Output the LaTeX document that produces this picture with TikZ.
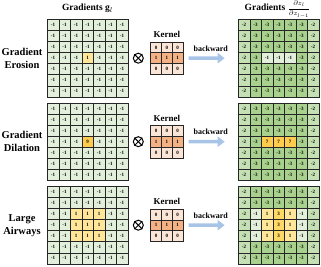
\documentclass[tikz,border=0pt]{standalone}
\usepackage{amsmath}
\usepackage{fontspec}
\setmainfont{Liberation Serif}
\usepackage{xcolor}
\usetikzlibrary{arrows.meta,positioning}

\definecolor{ltgreen}{HTML}{E2EFDA}
\definecolor{mdgreen}{HTML}{C5E0B4}
\definecolor{dkgreen}{HTML}{A9D18E}
\definecolor{ltyellow}{HTML}{FFE699}
\definecolor{mdyellow}{HTML}{FFD966}
\definecolor{gold}{HTML}{FFCC4D}
\definecolor{ltorange}{HTML}{FBE5D6}
\definecolor{korange}{HTML}{F4B183}
\definecolor{bwblue}{HTML}{A8C5E8}

\begin{document}
\begin{tikzpicture}[x=1pt, y=-1pt,
  cell/.style={draw=black!85, line width=0.6pt, minimum width=11.5pt, minimum height=11.05pt, inner sep=0pt, font=\fontsize{5}{6}\selectfont\bfseries},
  kcell/.style={cell, minimum width=10.8pt, minimum height=10.8pt},
  c-3/.style={fill=dkgreen}, c-2/.style={fill=mdgreen}, c-1/.style={fill=ltgreen},
  c1/.style={fill=ltyellow}, c3/.style={fill=mdyellow}, c7/.style={fill=gold}, c9/.style={fill=gold},
  k0/.style={fill=ltorange}, k1/.style={fill=korange},
  coltitle/.style={font=\fontsize{9.5}{11}\selectfont\bfseries},
  rowlabel/.style={align=center, font=\fontsize{10.5}{13}\selectfont\bfseries},
  bwd/.style={draw=bwblue, line width=3.5pt, -{Triangle[length=7pt, width=10pt]}, shorten <=5.3pt, shorten >=13.3pt}]
\useasboundingbox (0,0) rectangle (321,267);

% Column titles
\node[coltitle] (in-title) at (87.5,8) {Gradients g$_l$};
\node[coltitle, inner sep=0pt] (out-title) at (277.5,9.3) {Gradients {\fontsize{7.5}{8}\selectfont$\dfrac{\partial z_l}{\partial z_{l-1}}$}};

% Kernel, product sign and backward arrow of each row
\foreach \p/\dy/\lbl in {ero/0/{Gradient\\Erosion}, dil/83.5/{Gradient\\Dilation}, air/167/{Large\\Airways}} {
  \begin{scope}[yshift=-\dy pt]
    \node[rowlabel] (\p-lbl) at (22,58.2) {\lbl};
    \node[circle, draw, line width=1pt, minimum size=10pt, inner sep=0pt] (\p-x) at (138.3,58.2) {};
    \draw[line width=1pt] (\p-x.north west) -- (\p-x.south east);
    \draw[line width=1pt] (\p-x.north east) -- (\p-x.south west);
    \foreach \r [count=\i from 0] in {{0,0,0},{1,1,1},{0,0,0}}
      \foreach \v [count=\j from 0] in \r
        \node[kcell, k\v] (\p-k-\i-\j) at ({156.1+10.8*\j}, {47.4+10.8*\i}) {\v};
    \node[font=\fontsize{9}{10}\selectfont\bfseries, above=0.5pt of \p-k-0-1] (\p-ktitle) {Kernel};
  \end{scope}
}

% Input gradients
\foreach \r [count=\i from 0] in {{-1,-1,-1,-1,-1,-1,-1},{-1,-1,-1,-1,-1,-1,-1},{-1,-1,-1,-1,-1,-1,-1},{-1,-1,-1,1,-1,-1,-1},{-1,-1,-1,-1,-1,-1,-1},{-1,-1,-1,-1,-1,-1,-1},{-1,-1,-1,-1,-1,-1,-1}}
  \foreach \v [count=\j from 0] in \r
    \node[cell, c\v] (ero-in-\i-\j) at ({53.05+11.5*\j}, {25.03+11.05*\i}) {\v};
\foreach \r [count=\i from 0] in {{-1,-1,-1,-1,-1,-1,-1},{-1,-1,-1,-1,-1,-1,-1},{-1,-1,-1,-1,-1,-1,-1},{-1,-1,-1,9,-1,-1,-1},{-1,-1,-1,-1,-1,-1,-1},{-1,-1,-1,-1,-1,-1,-1},{-1,-1,-1,-1,-1,-1,-1}}
  \foreach \v [count=\j from 0] in \r
    \node[cell, c\v] (dil-in-\i-\j) at ({53.05+11.5*\j}, {108.53+11.05*\i}) {\v};
\foreach \r [count=\i from 0] in {{-1,-1,-1,-1,-1,-1,-1},{-1,-1,-1,-1,-1,-1,-1},{-1,-1,1,1,1,-1,-1},{-1,-1,1,1,1,-1,-1},{-1,-1,1,1,1,-1,-1},{-1,-1,-1,-1,-1,-1,-1},{-1,-1,-1,-1,-1,-1,-1}}
  \foreach \v [count=\j from 0] in \r
    \node[cell, c\v] (air-in-\i-\j) at ({53.05+11.5*\j}, {192.03+11.05*\i}) {\v};

% Output gradients
\foreach \r [count=\i from 0] in {{-2,-3,-3,-3,-3,-3,-2},{-2,-3,-3,-3,-3,-3,-2},{-2,-3,-3,-3,-3,-3,-2},{-2,-3,-1,-1,-1,-3,-2},{-2,-3,-3,-3,-3,-3,-2},{-2,-3,-3,-3,-3,-3,-2},{-2,-3,-3,-3,-3,-3,-2}}
  \foreach \v [count=\j from 0] in \r
    \node[cell, c\v] (ero-out-\i-\j) at ({244.05+11.5*\j}, {25.03+11.05*\i}) {\v};
\foreach \r [count=\i from 0] in {{-2,-3,-3,-3,-3,-3,-2},{-2,-3,-3,-3,-3,-3,-2},{-2,-3,-3,-3,-3,-3,-2},{-2,-3,7,7,7,-3,-2},{-2,-3,-3,-3,-3,-3,-2},{-2,-3,-3,-3,-3,-3,-2},{-2,-3,-3,-3,-3,-3,-2}}
  \foreach \v [count=\j from 0] in \r
    \node[cell, c\v] (dil-out-\i-\j) at ({244.05+11.5*\j}, {108.53+11.05*\i}) {\v};
\foreach \r [count=\i from 0] in {{-2,-3,-3,-3,-3,-3,-2},{-2,-3,-3,-3,-3,-3,-2},{-2,-1,1,3,1,-1,-2},{-2,-1,1,3,1,-1,-2},{-2,-1,1,3,1,-1,-2},{-2,-3,-3,-3,-3,-3,-2},{-2,-3,-3,-3,-3,-3,-2}}
  \foreach \v [count=\j from 0] in \r
    \node[cell, c\v] (air-out-\i-\j) at ({244.05+11.5*\j}, {192.03+11.05*\i}) {\v};

% Backward arrows
\foreach \p in {ero, dil, air}
  \draw[bwd] (\p-k-1-2.east) -- node[above=2pt, font=\fontsize{8}{9}\selectfont\bfseries, text=black] (\p-bw) {backward} (\p-out-3-0.west);

\end{tikzpicture}
\end{document}
